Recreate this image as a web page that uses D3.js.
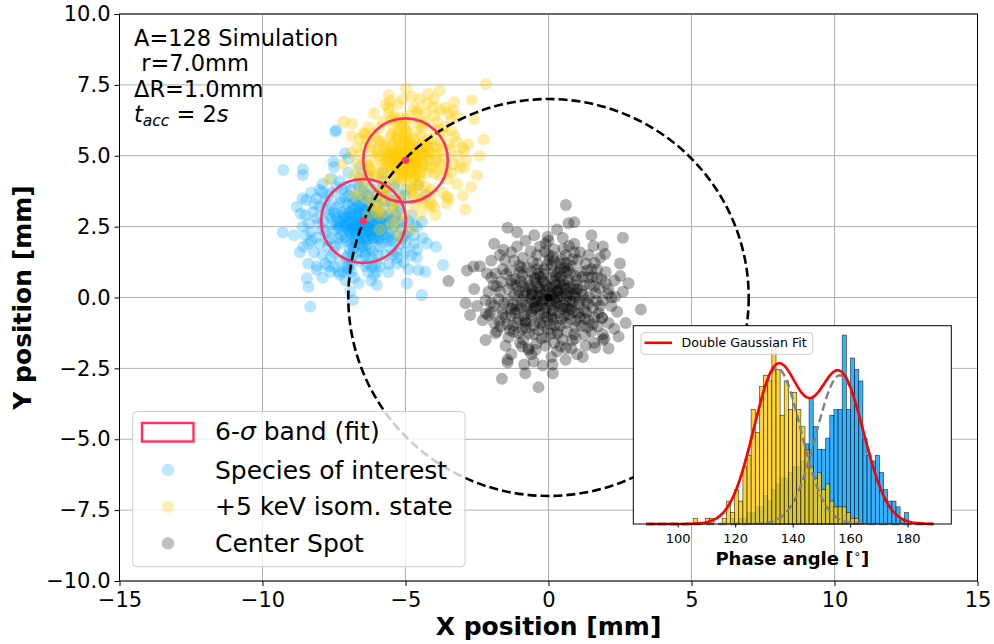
<!DOCTYPE html>
<html>
<head>
<meta charset="utf-8">
<script src="https://cdn.jsdelivr.net/npm/d3@7"></script>
<style>
  body { margin: 0; background: #fff; }
  svg { font-family: "DejaVu Sans", sans-serif; }
</style>
</head>
<body>
<svg width="994" height="644"></svg>
<script>
// ---- data ----
var xTicks = [-15, -10, -5, 0, 5, 10, 15];
var yTicks = [-10, -7.5, -5, -2.5, 0, 2.5, 5, 7.5, 10];
var phaseTicks = [100, 120, 140, 160, 180];

var centerSpot = [
  [0.61,3.26],[0.70,2.62],[0.90,2.65],[-1.43,2.46],[2.60,2.11],[-0.03,2.14],[-1.57,1.68],[1.57,1.82],[1.98,1.53],[-2.85,0.95],
  [-2.62,1.09],[-2.15,0.85],[-3.50,0.58],[2.51,0.76],[2.33,0.03],[3.23,-0.42],[-2.74,-0.62],[-2.10,-0.62],[-1.86,-1.26],[2.45,-1.38],
  [1.90,-1.30],[1.63,-1.77],[0.61,-1.79],[-0.93,-1.73],[-0.70,-1.85],[-1.43,-2.20],[-1.43,-2.29],[-0.52,-2.26],[-0.85,-2.36],[0.14,-2.36],
  [-0.81,-2.67],[0.15,-2.67],[-1.63,-2.87],[-0.35,-3.17],[-2.19,-0.56],[1.87,-0.71],[1.95,-1.45],
  [-0.2,0.1],[0.3,-0.2],[-0.5,-0.4],[0.6,0.3],[0.1,0.7],[-0.8,0.2],[0.9,-0.5],[-0.3,-0.9],[0.4,-1.0],[-1.1,-0.3],
  [1.2,0.1],[-0.6,0.9],[0.7,1.0],[-1.3,0.6],[1.4,-0.8],[-0.9,-1.1],[0.2,1.3],[-0.1,-1.4],[1.0,0.6],[-1.5,-0.7],
  [1.6,0.4],[-0.4,1.5],[0.5,-1.5],[-1.7,0.2],[1.3,1.2],[-1.2,1.3],[0.9,-1.3],[-1.0,-1.6],[1.8,-0.3],[-0.7,-1.8],
  [0.15,-0.45],[-0.35,0.35],[0.45,0.05],[-0.05,-0.7],[0.75,-0.15],[-0.65,-0.05],[0.25,0.45],[-0.25,-0.25],[0.55,-0.65],[-0.45,0.65],
  [1.05,-0.25],[-1.05,0.05],[0.35,0.9],[-0.15,1.0],[0.85,0.45],[-0.85,-0.65],[1.15,-1.0],[-1.25,-1.0],[0.6,1.5],[-0.5,-1.3],
  [1.5,-1.2],[-1.6,1.0],[2.0,0.5],[-1.9,-0.3],[1.7,1.0],[-1.4,-1.4],[0.3,-1.9],[-0.3,1.8],[2.1,-0.9],[-2.0,0.7],
  [1.1,1.6],[-1.1,1.8],[0.8,-1.8],[-0.9,1.4],[1.9,-1.5],[-1.8,-1.2],[2.2,0.0],[-2.2,-0.1],[0.0,2.0],[0.1,-2.1],
  [1.4,0.7],[-1.4,0.3],[0.6,-0.9],[-0.6,-0.6],[1.25,-0.45],[-0.95,0.55],[0.05,0.35],[0.2,-0.05],[-0.15,-0.55],[0.5,0.6],
  [-0.7,0.4],[0.95,0.15],[-0.35,-1.15],[0.65,-1.2],[-1.15,-0.55],[1.55,-0.35],[-1.55,-0.2],[0.4,1.2],[-0.2,0.6],[0.8,-0.4],
  [2.3,0.6],[1.8,1.4],[-1.7,1.5],[2.4,-0.5],[-2.3,-0.8],[1.0,-2.0],[-1.3,-2.0],[0.5,2.1],[-0.8,2.0],[2.6,0.2],
  [-2.6,0.3],[1.3,-1.7],[-0.1,-1.7],[0.0,1.5],[1.6,-0.7],[-1.0,0.9],[0.3,0.2],[-0.4,-0.1],[0.1,-0.25],[-0.1,0.25],
  [0.12,0.08],[-0.28,0.18],[0.38,-0.32],[-0.48,-0.18],[0.58,0.12],[-0.12,-0.38],[0.22,0.58],[-0.62,0.32],[0.72,-0.42],[-0.32,-0.62],
  [0.88,0.28],[-0.78,-0.28],[0.18,-0.78],[-0.18,0.82],[1.08,-0.12],[-1.02,0.22],[0.42,0.98],[-0.52,-0.98],[0.98,-0.82],[-0.92,0.78],
  [1.22,0.42],[-1.18,-0.42],[0.32,-1.22],[-0.38,1.18],[1.32,-0.52],[-1.28,0.48],[0.62,1.22],[-0.68,-1.28],[1.12,0.92],[-1.08,-0.88],
  [1.42,0.02],[-1.42,-0.08],[0.02,1.32],[0.08,-1.28],[1.52,0.72],[-1.48,0.82],[0.82,-1.52],[-0.88,-1.48],[1.68,-0.12],[-1.62,-0.42],
  [0.48,0.32],[-0.42,0.52],[0.52,-0.28],[-0.58,-0.48],[0.28,0.22],[-0.22,-0.12],[0.68,0.62],[-0.72,0.62],[0.78,-0.78],[-0.82,-0.82],
  [0.02,-0.12],[0.32,0.02],[-0.08,0.42],[0.12,-0.58],[-0.38,-0.32],[0.62,-0.08],[-0.58,0.12],[0.42,0.72],[-0.28,0.72],[0.22,-0.98],
  [1.78,0.32],[-1.72,-0.82],[1.02,1.32],[-1.02,1.12],[1.28,-1.32],[-1.22,-1.22],[0.52,1.72],[-0.42,-1.62],[1.88,-0.72],[-1.92,0.42],
  [2.08,0.12],[-2.02,-0.52],[0.72,1.82],[-0.62,1.62],[1.62,1.22],[-1.52,1.32],[1.72,-1.02],[-1.68,-1.02],[0.42,-1.72],[-0.12,1.62],
  [0.92,0.02],[-0.92,-0.12],[1.18,0.72],[-1.32,-0.62],[0.12,1.12],[-0.02,-1.12],[1.38,-0.22],[-1.12,0.42],[0.78,1.12],[-0.78,-1.08],
  [2.2,-0.3],[-2.1,0.2],[2.0,0.9],[-1.9,-0.9],[1.4,1.5],[-1.3,1.6],[1.6,-1.6],[-1.5,-1.7],[2.3,-1.1],[-2.4,1.1],
  [0.2,1.7],[-0.5,2.2],[0.9,1.9],[1.2,-2.1],[-0.6,-2.0],[0.6,-2.2],[2.5,1.2],[-2.5,-0.3],[2.7,-0.9],[-2.0,1.3],
  [1.9,1.8],[-1.9,1.9],[2.8,0.5],[-2.9,-0.2],[0.3,2.4],[-0.2,-2.4],[1.5,2.2],[-1.1,2.3],[2.1,-1.8],[-2.2,-1.5],
  [0.05,0.15],[-0.15,-0.05],[0.25,-0.15],[-0.35,0.05],[0.35,0.25],[-0.05,-0.35],[0.15,0.35],[-0.45,-0.35],[0.55,0.45],[-0.55,0.25],
  [0.65,-0.35],[-0.25,-0.75],[0.45,-0.75],[-0.65,-0.85],[0.85,-0.15],[-0.85,0.05],[0.25,0.75],[-0.35,0.85],[0.95,0.75],[-0.95,-0.35],
  [1.15,0.25],[-1.15,0.65],[0.75,0.85],[-0.75,1.05],[1.25,-0.75],[-1.25,-0.25],[0.55,1.05],[-0.05,1.15],[0.95,-1.05],[-1.05,-1.25],
  [1.45,0.45],[-1.35,0.95],[1.35,-1.05],[-1.45,-0.95],[1.65,0.15],[-1.65,0.55],[0.15,1.45],[-0.25,-1.45],[1.75,-0.55],[-1.75,-0.05],
  [0.35,-0.55],[-0.15,0.55],[0.65,0.05],[-0.55,-0.15],[0.05,-0.95],[0.75,0.35],[-0.75,-0.45],[0.45,1.35],[-0.55,1.25],[1.05,-0.55],
  [-1.05,-0.75],[1.35,0.95],[-1.35,-1.15],[1.85,0.65],[-1.85,0.85],[0.85,1.35],[-0.95,1.05],[0.95,-1.45],[-0.45,-1.85],[1.55,-0.95],
  [0.2,0.9],[-0.6,0.1],[0.8,0.1],[0.1,-0.7],[-0.3,0.3],[0.5,-0.4],[-0.9,0.4],[0.3,-1.3],[1.0,0.3],[-1.2,0.1],
  [0.7,-0.6],[-0.5,0.7],[1.3,-0.1],[-0.2,-1.0],[0.4,0.5],[-0.8,-0.9],[1.1,-0.7],[-1.3,-0.4],[0.6,0.9],[-0.4,1.0],
  [2.1,0.3],[1.9,-0.1],[-1.8,0.4],[1.7,0.7],[-2.0,-0.2],[1.5,1.0],[-1.6,-0.6],[0.2,-1.6],[-0.1,1.9],[0.9,1.6]
];

var species = [
  [-9.27,4.50],[-8.59,4.52],[-8.59,4.32],[-9.29,2.29],[-8.33,-0.32],[-8.45,0.68],[-8.39,0.38],[-7.52,4.79],[-7.11,5.09],[-8.47,3.44],
  [-8.66,2.95],[-8.57,1.79],[-8.10,0.97],[-7.63,0.91],[-6.64,0.50],[-6.00,0.44],[-6.93,0.20],[-6.84,-0.09],[-4.95,0.50],[-4.43,0.09],
  [-4.25,1.91],[-3.94,1.79],[-3.69,1.15],[-4.55,0.97],[-4.31,0.91],[-5.07,1.23],[-7.05,1.09],[-7.34,0.91],[-4.70,2.56],[-4.43,2.67],
  [-7.42,5.91],[-7.46,5.85],[-5.4,4.0],[-4.3,3.6],[-5.8,4.4],[-5.0,3.8],[-7.0,4.9],[-4.55,3.97],
  [-6.5,2.6],[-6.8,2.9],[-6.2,2.3],[-7.0,2.4],[-6.0,2.9],[-6.6,3.2],[-6.4,2.0],[-7.2,3.0],[-5.8,2.4],[-6.9,1.9],
  [-6.1,3.4],[-7.4,2.6],[-5.6,2.8],[-6.7,1.6],[-6.3,3.6],[-7.6,2.1],[-5.5,2.1],[-7.1,3.5],[-5.9,1.8],[-7.8,3.1],
  [-6.55,2.75],[-6.35,2.45],[-6.75,2.25],[-6.15,2.65],[-6.85,3.15],[-6.45,3.0],[-6.95,2.65],[-6.05,2.15],[-7.25,2.2],[-5.75,3.15],
  [-6.6,1.3],[-7.5,1.6],[-5.4,2.5],[-7.9,2.4],[-5.3,3.0],[-6.9,3.8],[-6.2,1.4],[-7.3,1.3],[-5.7,1.5],[-8.1,2.8],
  [-7.7,3.6],[-5.2,1.9],[-6.0,3.9],[-6.7,4.0],[-8.0,1.9],[-5.1,2.7],[-7.4,3.9],[-6.4,1.1],[-5.6,3.6],[-7.9,1.5],
  [-8.3,2.3],[-8.2,3.3],[-7.0,1.0],[-5.9,1.1],[-4.9,2.3],[-5.0,1.6],[-8.4,1.9],[-7.6,4.2],[-6.3,4.3],[-5.4,3.9],
  [-8.5,2.9],[-7.2,0.9],[-6.1,0.8],[-5.3,1.2],[-4.8,2.9],[-8.6,2.5],[-8.0,3.8],[-7.0,4.4],[-5.8,4.1],[-4.7,1.9],
  [-6.5,2.3],[-6.85,2.5],[-6.25,2.95],[-7.05,2.85],[-6.0,2.6],[-6.6,1.9],[-7.35,2.45],[-5.95,2.1],[-6.4,3.35],[-6.9,2.1],
  [-7.6,2.8],[-5.5,1.7],[-7.8,1.2],[-5.2,3.4],[-8.1,1.1],[-4.6,2.5],[-8.8,3.2],[-8.7,1.6],[-7.5,4.6],[-6.6,4.6],
  [-5.0,3.6],[-4.6,1.4],[-7.9,0.7],[-8.3,3.7],[-6.2,0.6],[-5.6,0.9],[-4.4,2.1],[-8.9,2.2],[-7.1,0.6],[-4.9,1.0],
  [-6.45,2.55],[-6.7,2.7],[-6.3,2.8],[-6.55,2.4],[-6.8,2.35],[-6.2,2.5],[-6.65,3.0],[-6.35,2.15],[-7.0,2.7],[-6.1,2.85],
  [-6.5,1.8],[-7.15,2.55],[-5.85,2.65],[-6.75,3.4],[-6.25,1.75],[-7.45,2.95],[-5.65,2.3],[-6.95,1.7],[-6.0,3.3],[-7.3,3.35],
  [-6.58,2.62],[-6.42,2.72],[-6.72,2.52],[-6.32,2.58],[-6.88,2.78],[-6.18,2.38],[-6.62,2.98],[-6.48,2.22],[-7.08,2.58],[-5.98,2.78],
  [-6.78,3.12],[-6.28,3.18],[-6.92,2.28],[-6.12,2.08],[-7.18,2.82],[-5.88,2.98],[-6.52,3.48],[-6.68,1.98],[-7.32,2.68],[-5.72,2.58],
  [-7.02,3.28],[-6.08,3.02],[-7.12,2.12],[-5.92,2.32],[-6.38,3.62],[-6.82,1.72],[-7.42,3.18],[-5.62,2.88],[-7.28,1.92],[-5.82,1.92],
  [-6.22,3.82],[-6.98,3.58],[-7.52,2.38],[-5.48,2.38],[-6.42,1.48],[-7.08,1.42],[-5.98,1.52],[-7.68,2.92],[-5.38,2.78],[-7.72,2.02],
  [-6.62,4.22],[-7.22,3.82],[-5.78,3.72],[-7.82,3.42],[-5.28,2.18],[-8.02,2.62],[-6.88,1.22],[-6.02,1.22],[-7.62,1.42],[-5.42,1.52],
  [-8.12,2.12],[-8.22,3.02],[-5.12,2.42],[-5.18,3.12],[-7.92,3.72],[-6.32,0.92],[-7.48,1.08],[-5.58,1.18],[-8.38,2.62],[-4.98,1.92],
  [-6.55,2.9],[-6.3,2.35],[-6.9,2.45],[-6.15,2.75],[-6.75,2.05],[-6.45,2.1],[-6.95,3.0],[-6.05,2.45],[-7.2,2.35],[-5.9,2.7],
  [-6.4,2.65],[-6.6,2.45],[-6.8,2.65],[-6.2,2.2],[-6.5,3.1],[-7.05,2.0],[-5.8,2.2],[-7.4,2.8],[-6.35,1.85],[-6.85,3.55],
  [-7.7,1.8],[-5.3,1.6],[-8.2,1.6],[-7.3,4.1],[-5.5,3.4],[-8.6,3.5],[-6.8,0.7],[-5.0,2.2],[-4.8,1.5],[-8.4,1.2],
  [-6.5,2.7],[-6.62,2.58],[-6.38,2.52],[-6.72,2.82],[-6.28,2.72],[-6.58,2.32],[-6.42,3.08],[-6.82,2.42],[-6.18,2.92],[-6.9,2.9],
  [-6.1,2.4],[-6.66,3.24],[-6.34,2.04],[-7.1,2.5],[-5.9,2.5],[-6.76,1.82],[-6.24,3.32],[-7.06,3.08],[-5.96,2.04],[-7.22,2.68],
  [-5.78,2.82],[-6.52,1.62],[-6.48,3.72],[-7.34,2.08],[-5.66,2.12],[-7.26,3.5],[-5.74,3.42],[-6.86,1.46],[-6.14,1.62],[-7.56,2.58],
  [-5.56,2.62],[-6.62,3.92],[-7.46,1.8],[-5.46,1.98],[-7.64,3.26],[-5.44,3.22],[-6.98,1.12],[-6.16,1.08],[-7.86,2.7],[-5.24,2.62],
  [-6.7,2.2],[-6.3,2.95],[-6.95,2.3],[-6.05,2.85],[-6.55,2.05],[-6.45,3.25],[-7.15,2.9],[-5.85,2.35],[-6.85,3.3],[-6.15,2.1],
  [-7.3,2.5],[-5.7,2.75],[-6.6,3.6],[-6.4,1.6],[-7.5,3.0],[-5.6,2.0],[-7.0,1.5],[-6.0,3.55],[-7.8,2.3],[-5.35,2.9],
  [-6.3,1.2],[-7.1,3.9],[-5.7,3.9],[-8.0,3.2],[-5.1,2.1],[-7.7,1.1],[-6.5,4.0],[-8.3,2.0],[-4.9,2.7],[-7.6,3.7],
  [-6.9,0.9],[-5.3,1.4],[-8.1,3.5],[-4.7,2.2],[-7.3,0.8],[-5.2,3.6],[-8.5,2.2],[-6.0,0.9],[-4.6,1.7],[-7.9,4.0]
];

var isomer = [
  [-2.19,7.53],[-4.98,7.38],[-5.59,7.14],[-5.53,6.94],[-2.68,6.97],[-2.27,5.58],[-2.80,5.41],[-2.95,5.18],[-2.88,4.85],[-2.97,4.56],
  [-2.71,3.91],[-2.91,3.11],[-3.55,3.32],[-3.96,2.91],[-7.17,6.20],[-6.87,6.14],[-6.47,5.79],[-3.32,6.61],[-3.20,6.38],[-3.79,6.61],
  [-4.25,6.85],[-7.69,4.14],[-3.55,3.56],[-4.19,3.20],
  [-5.0,4.9],[-4.7,5.2],[-5.3,4.6],[-4.6,4.6],[-5.4,5.3],[-4.9,5.6],[-5.1,4.2],[-4.3,5.0],[-5.7,4.8],[-4.5,4.1],
  [-5.2,5.9],[-4.2,5.6],[-5.8,4.3],[-4.8,3.9],[-5.5,5.7],[-4.0,4.6],[-6.0,5.1],[-4.4,6.0],[-5.6,3.9],[-3.9,5.3],
  [-4.95,4.75],[-5.15,5.05],[-4.75,4.95],[-5.25,4.8],[-4.85,5.35],[-5.05,4.45],[-4.55,5.4],[-5.45,4.4],[-4.65,4.35],[-5.35,5.55],
  [-6.2,4.5],[-3.8,4.3],[-5.0,6.3],[-4.6,3.5],[-6.1,5.8],[-3.7,5.8],[-5.9,3.6],[-4.1,3.8],[-5.4,6.4],[-3.6,4.9],
  [-6.4,5.3],[-4.3,6.5],[-5.2,3.4],[-3.5,5.4],[-6.5,4.0],[-4.7,6.7],[-5.8,6.2],[-3.9,6.2],[-6.3,6.0],[-3.4,4.4],
  [-5.5,3.2],[-4.4,3.3],[-6.7,4.7],[-3.3,5.7],[-6.0,3.2],[-3.7,3.7],[-5.1,7.0],[-4.0,7.0],[-6.6,5.6],[-3.2,5.0],
  [-5.7,6.8],[-4.5,2.9],[-5.9,2.9],[-3.4,6.3],[-6.8,4.3],[-3.1,4.6],[-6.2,3.4],[-4.2,7.2],[-5.3,2.8],[-3.5,3.5],
  [-4.9,5.1],[-5.1,4.65],[-4.6,4.85],[-5.35,5.05],[-4.8,4.5],[-5.0,5.5],[-4.4,4.7],[-5.6,5.2],[-4.7,4.2],[-5.3,4.2],
  [-4.45,5.7],[-5.75,4.55],[-4.1,5.1],[-5.5,5.0],[-4.25,4.4],[-5.2,6.1],[-4.6,6.2],[-5.9,5.5],[-3.95,5.9],[-6.05,4.3],
  [-5.7,3.5],[-6.4,4.8],[-6.9,5.1],[-3.0,5.3],[-6.1,6.5],[-3.6,6.7],[-5.0,2.9],[-4.0,3.2],[-6.6,3.7],[-3.2,4.0],
  [-5.8,3.0],[-5.5,2.6],[-6.1,3.2],[-5.3,2.4],[-6.4,3.5],[-5.9,2.4],[-5.2,2.1],[-6.3,2.9],[-4.8,2.4],
  [-4.92,4.88],[-5.08,4.98],[-4.78,4.78],[-5.18,4.72],[-4.68,5.08],[-5.28,5.18],[-4.88,5.22],[-5.02,4.58],[-4.58,4.98],[-5.42,4.88],
  [-4.82,4.42],[-5.22,5.42],[-4.48,5.28],[-5.52,4.62],[-4.72,5.62],[-5.12,4.32],[-4.38,4.68],[-5.62,5.08],[-4.98,5.82],[-5.32,4.02],
  [-4.28,5.38],[-5.72,5.38],[-4.52,4.28],[-5.48,5.78],[-4.18,4.88],[-5.82,4.68],[-4.62,3.92],[-5.08,6.02],[-4.08,5.58],[-5.92,4.98],
  [-4.42,6.12],[-5.62,4.12],[-3.98,4.38],[-6.02,5.62],[-4.78,3.72],[-5.38,6.22],[-3.88,5.08],[-6.12,4.42],[-4.92,6.42],[-5.18,3.62],
  [-3.78,5.52],[-6.22,5.22],[-4.32,3.72],[-5.78,3.82],[-3.72,4.68],[-6.32,4.68],[-4.58,6.52],[-5.58,6.52],[-3.62,6.02],[-6.42,5.78],
  [-4.12,3.52],[-5.88,3.32],[-3.52,4.18],[-6.52,4.42],[-4.02,6.72],[-5.28,6.82],[-3.42,5.22],[-6.62,5.02],[-4.72,3.22],[-5.42,3.08],
  [-4.85,4.95],[-5.05,4.85],[-4.75,5.15],[-5.25,4.95],[-4.95,4.65],[-4.65,4.75],[-5.15,5.25],[-4.55,5.15],[-5.35,4.65],[-4.85,5.45],
  [-5.45,5.15],[-4.45,4.55],[-5.05,5.65],[-4.35,5.25],[-5.65,4.85],[-4.65,5.85],[-5.25,4.35],[-4.25,4.95],[-5.75,5.25],[-4.95,4.25],
  [-3.3,6.9],[-2.6,6.3],[-2.5,4.3],[-3.0,3.6],[-6.9,5.7],[-7.2,4.7],[-6.8,3.6],[-4.8,7.1],[-3.8,7.3],[-2.4,5.0],
  [-4.9,4.9],[-5.02,5.02],[-4.78,4.88],[-5.12,4.78],[-4.88,4.68],[-4.72,5.12],[-5.22,5.08],[-5.02,5.28],[-4.62,4.62],[-5.32,4.52],
  [-4.52,5.02],[-5.38,4.98],[-4.82,5.48],[-5.12,4.48],[-4.42,4.82],[-5.48,5.38],[-4.68,4.32],[-5.28,5.62],[-4.38,5.48],[-5.58,4.68],
  [-4.98,4.08],[-5.08,5.78],[-4.22,5.18],[-5.68,4.98],[-4.58,3.98],[-5.42,6.02],[-4.12,4.58],[-5.78,5.48],[-4.32,6.18],[-5.88,4.18],
  [-4.02,5.38],[-6.08,4.88],[-4.72,3.58],[-5.22,6.32],[-3.92,4.78],[-6.18,5.48],[-4.42,3.48],[-5.68,3.68],[-3.82,5.92],[-6.28,4.18],
  [-4.8,5.0],[-5.2,4.9],[-4.7,4.7],[-5.1,5.4],[-4.6,5.3],[-5.4,4.7],[-4.9,4.4],[-5.0,5.9],[-4.4,5.1],[-5.6,5.0],
  [-4.5,4.4],[-5.3,5.7],[-4.2,5.3],[-5.7,4.4],[-4.8,3.8],[-5.0,6.1],[-3.9,4.9],[-6.0,5.2],[-4.3,3.9],[-5.5,6.3],
  [-3.7,5.2],[-6.3,4.6],[-4.6,6.6],[-5.8,3.9],[-3.6,4.5],[-6.4,5.6],[-4.0,6.4],[-5.4,3.4],[-3.4,5.9],[-6.6,4.2],
  [-4.1,3.3],[-5.9,6.0],[-3.3,4.7],[-6.7,5.3],[-4.5,7.0],[-5.6,6.7],[-3.5,6.5],[-6.2,3.8],[-3.2,5.5],[-6.0,3.0]
];

// fitted band centres [x, y] and 6-sigma radius (mm)
var bandCenters = [[-6.47, 2.70], [-5.00, 4.84]];
var bandRadius = 1.48;
var orbitRadius = 7.0;

// phase histogram: bins of equal width starting at binStart
var binStart = 105.4, binWidth = 1.44;
var isomerCounts = [1,0,0,1,1,0,0,1,4,2, 6,4,10,12,20,16,24,26,25,31, 27,19,25,20,23,20,17,13,10,8, 9,6,7,4,3,3,3,2,1,1];
var speciesCounts = [0,0,0,0,0,0,0,0,0,1, 0,1,1,2,2,3,3,5,4,6, 7,8,8,9,10,10,11,14,22,17, 13,13,15,19,20,20,33,20,29,27,
                     25,15,12,11,12,9,6,4,4,3, 1,2];
// double gaussian fit: [amplitude, mean, sigma]
var fitComponents = [[27.2, 134.6, 8.2], [26.0, 156.5, 8.3]];
var fitRange = [89, 189];

var legendLabels = ["Species of interest", "+5 keV isom. state", "Center Spot"];
var infoLines = ["A=128 Simulation", " r=7.0mm", "\u0394R=1.0mm"];

// ---- drawing ----
var svg = d3.select("svg");
var red = "#ff3060", blue = "#00a0ff", gold = "#ffcc00";
var minus = function (s) { return s.replace("-", "\u2212"); };

var x = d3.scaleLinear().domain([-15, 15]).range([119.5, 977.5]);
var y = d3.scaleLinear().domain([-10, 10]).range([581, 14]);

// grid
svg.append("g").selectAll("line").data(xTicks).enter().append("line")
  .attr("x1", function (d) { return x(d); }).attr("x2", function (d) { return x(d); })
  .attr("y1", y(-10)).attr("y2", y(10))
  .attr("stroke", "#b0b0b0").attr("stroke-width", 1);
svg.append("g").selectAll("line").data(yTicks).enter().append("line")
  .attr("y1", function (d) { return y(d); }).attr("y2", function (d) { return y(d); })
  .attr("x1", x(-15)).attr("x2", x(15))
  .attr("stroke", "#b0b0b0").attr("stroke-width", 1);

// scatter clusters
var cloud = function (data, color, op) {
  svg.append("g").selectAll("circle").data(data).enter().append("circle")
    .attr("cx", function (d) { return x(d[0]); })
    .attr("cy", function (d) { return y(d[1]); })
    .attr("r", 6)
    .attr("fill", color)
    .attr("fill-opacity", op);
};
cloud(species, blue, 0.28);
cloud(isomer, gold, 0.33);
cloud(centerSpot, "#000", 0.3);

// orbit circle
svg.append("ellipse")
  .attr("cx", x(0)).attr("cy", y(0))
  .attr("rx", x(orbitRadius) - x(0)).attr("ry", y(0) - y(orbitRadius))
  .attr("fill", "none").attr("stroke", "#000").attr("stroke-width", 2.6)
  .attr("stroke-dasharray", "9,4");

// 6 sigma bands
svg.append("g").selectAll("ellipse").data(bandCenters).enter().append("ellipse")
  .attr("cx", function (d) { return x(d[0]); })
  .attr("cy", function (d) { return y(d[1]); })
  .attr("rx", x(bandRadius) - x(0)).attr("ry", y(0) - y(bandRadius))
  .attr("fill", "none").attr("stroke", red).attr("stroke-width", 2.6);
svg.append("g").selectAll("circle").data(bandCenters).enter().append("circle")
  .attr("cx", function (d) { return x(d[0]); })
  .attr("cy", function (d) { return y(d[1]); })
  .attr("r", 3.6).attr("fill", red);
svg.append("circle").attr("cx", x(0)).attr("cy", y(0)).attr("r", 4).attr("fill", "#000");

// axes
var gx = svg.append("g").attr("transform", "translate(0," + y(-10) + ")")
  .call(d3.axisBottom(x).tickValues(xTicks).tickSize(5).tickPadding(6)
    .tickFormat(function (d) { return minus(String(d)); }));
var gy = svg.append("g").attr("transform", "translate(" + x(-15) + ",0)")
  .call(d3.axisLeft(y).tickValues(yTicks).tickSize(5).tickPadding(4)
    .tickFormat(function (d) { return minus(d3.format(".1f")(d)); }));
[gx, gy].forEach(function (g) {
  g.select(".domain").remove();
  g.selectAll("text").attr("font-size", 21).attr("font-family", "DejaVu Sans").attr("fill", "#000");
  g.selectAll("line").attr("stroke", "#000").attr("stroke-width", 1);
});
svg.append("rect").attr("x", x(-15)).attr("y", y(10))
  .attr("width", x(15) - x(-15)).attr("height", y(-10) - y(10))
  .attr("fill", "none").attr("stroke", "#000").attr("stroke-width", 1);

svg.append("text").text("X position [mm]")
  .attr("x", (x(-15) + x(15)) / 2).attr("y", 635)
  .attr("text-anchor", "middle").attr("font-weight", "bold").attr("font-size", 25);
svg.append("text").text("Y position [mm]")
  .attr("transform", "translate(31," + (y(0)) + ") rotate(-90)")
  .attr("text-anchor", "middle").attr("font-weight", "bold").attr("font-size", 25);

// info text
var info = svg.append("g").attr("font-size", 22.5);
infoLines.forEach(function (t, i) {
  info.append("text").attr("x", 134).attr("y", 46 + i * 25.3).attr("xml:space", "preserve").text(t);
});
var tl = info.append("text").attr("x", 134).attr("y", 46 + 3 * 25.3);
tl.append("tspan").attr("font-style", "italic").text("t");
tl.append("tspan").attr("font-style", "italic").attr("font-size", 15.5).attr("dy", 4).text("acc");
tl.append("tspan").attr("dy", -4).attr("xml:space", "preserve").text(" = 2");
tl.append("tspan").attr("font-style", "italic").text("s");

// legend
var lg = svg.append("g");
lg.append("rect").attr("x", 132.7).attr("y", 411.7).attr("width", 332.3).attr("height", 155)
  .attr("rx", 4).attr("fill", "#fff").attr("fill-opacity", 0.8).attr("stroke", "#cccccc").attr("stroke-width", 1);
lg.append("rect").attr("x", 142).attr("y", 423).attr("width", 51.5).attr("height", 18.5)
  .attr("fill", "none").attr("stroke", red).attr("stroke-width", 2.4);
var l0 = lg.append("text").attr("x", 215).attr("y", 440).attr("font-size", 25);
l0.append("tspan").text("6-");
l0.append("tspan").attr("font-style", "italic").text("\u03c3");
l0.append("tspan").text(" band (fit)");
var legendColors = [[blue, 0.25], [gold, 0.3], ["#000", 0.25]];
legendLabels.forEach(function (t, i) {
  lg.append("circle").attr("cx", 168).attr("cy", 470 + i * 36.7).attr("r", 6.2)
    .attr("fill", legendColors[i][0]).attr("fill-opacity", legendColors[i][1]);
  lg.append("text").attr("x", 215).attr("y", 478.5 + i * 36.7).attr("font-size", 25).text(t);
});

// ---- inset histogram ----
var xi = d3.scaleLinear().domain([84.55, 195.2]).range([633.3, 951.3]);
var yi = d3.scaleLinear().domain([0, 34.65]).range([524, 325.7]);
var ins = svg.append("g");
ins.append("rect").attr("x", xi(84.55)).attr("y", yi(34.65))
  .attr("width", xi(195.2) - xi(84.55)).attr("height", yi(0) - yi(34.65)).attr("fill", "#fff");

var bars = function (counts, color) {
  var rows = counts.map(function (c, i) { return { x0: binStart + i * binWidth, c: c }; })
    .filter(function (d) { return d.c > 0; });
  ins.append("g").selectAll("rect").data(rows).enter().append("rect")
    .attr("x", function (d) { return xi(d.x0); })
    .attr("width", xi(binWidth) - xi(0))
    .attr("y", function (d) { return yi(d.c); })
    .attr("height", function (d) { return yi(0) - yi(d.c); })
    .attr("fill", color).attr("fill-opacity", 0.8)
    .attr("stroke", "#000").attr("stroke-opacity", 0.7).attr("stroke-width", 0.7);
};
bars(speciesCounts, blue);
bars(isomerCounts, gold);

var gauss = function (p, t) { return p[0] * Math.exp(-Math.pow(t - p[1], 2) / (2 * p[2] * p[2])); };
var fitX = d3.range(fitRange[0], fitRange[1] + 0.01, 0.5);
var fitLine = function (f) {
  return d3.line().x(function (t) { return xi(t); }).y(function (t) { return yi(f(t)); })(fitX);
};
fitComponents.forEach(function (p) {
  ins.append("path").attr("d", fitLine(function (t) { return gauss(p, t); }))
    .attr("fill", "none").attr("stroke", "#808080").attr("stroke-width", 2.4)
    .attr("stroke-dasharray", "8,4");
});
ins.append("path").attr("d", fitLine(function (t) {
    return gauss(fitComponents[0], t) + gauss(fitComponents[1], t);
  }))
  .attr("fill", "none").attr("stroke", "#ff0000").attr("stroke-width", 2.6);

var gi = ins.append("g").attr("transform", "translate(0," + yi(0) + ")")
  .call(d3.axisBottom(xi).tickValues(phaseTicks).tickSize(3.5).tickPadding(6));
gi.select(".domain").remove();
gi.selectAll("text").attr("font-size", 13).attr("font-family", "DejaVu Sans").attr("fill", "#000");
gi.selectAll("line").attr("stroke", "#000");
ins.append("rect").attr("x", xi(84.55)).attr("y", yi(34.65))
  .attr("width", xi(195.2) - xi(84.55)).attr("height", yi(0) - yi(34.65))
  .attr("fill", "none").attr("stroke", "#000").attr("stroke-width", 1);

var xl = ins.append("text").attr("x", (xi(84.55) + xi(195.2)) / 2).attr("y", 565)
  .attr("text-anchor", "middle").attr("font-weight", "bold").attr("font-size", 18);
xl.append("tspan").text("Phase angle [");
xl.append("tspan").attr("font-size", 12).attr("font-weight", "normal").attr("dy", -7).text("\u2218");
xl.append("tspan").attr("dy", 7).text("]");

ins.append("rect").attr("x", 641).attr("y", 332.7).attr("width", 171.7).attr("height", 21.6)
  .attr("rx", 3).attr("fill", "#fff").attr("fill-opacity", 0.8).attr("stroke", "#cccccc");
ins.append("line").attr("x1", 644.5).attr("x2", 672).attr("y1", 342.8).attr("y2", 342.8)
  .attr("stroke", "#ff0000").attr("stroke-width", 2.6);
ins.append("text").attr("x", 681.5).attr("y", 347.3).attr("font-size", 12.6).text("Double Gaussian Fit");
</script>
</body>
</html>
